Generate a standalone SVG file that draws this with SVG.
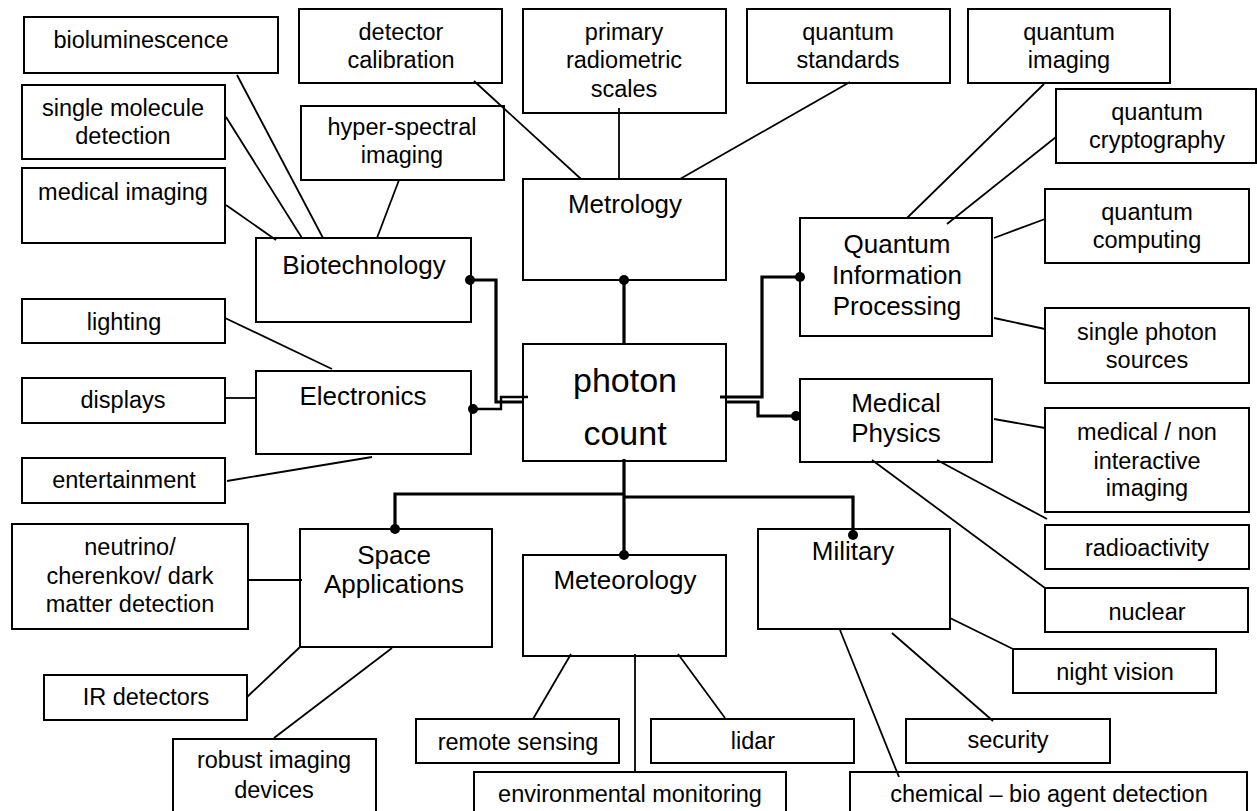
<svg xmlns="http://www.w3.org/2000/svg" width="1257" height="811" viewBox="0 0 1257 811">
<style>
rect{fill:#fff;stroke:#000;stroke-width:2}
text{font-family:"Liberation Sans",Arial,sans-serif;fill:#000;text-anchor:middle}
.s{font-size:23.5px}
.m{font-size:26px}
.c{font-size:34px}
.t{stroke:#000;stroke-width:1.8;fill:none}
.k{stroke:#000;stroke-width:3.2;fill:none}
.k2{stroke:#000;stroke-width:2.4;fill:none}
circle{fill:#000}
</style>
<rect x="0" y="0" width="1257" height="811" style="stroke:none"/>
<g id="photon-count"><rect x="523" y="344" width="203" height="117"/><text class="c" x="625" y="392">photon</text><text class="c" x="625" y="445">count</text></g>
<g id="metrology"><rect x="523" y="179" width="203" height="101"/><text class="m" x="625" y="213">Metrology</text></g>
<g id="biotechnology"><rect x="256" y="238" width="215" height="84"/><text class="m" x="364" y="274">Biotechnology</text></g>
<g id="electronics"><rect x="256" y="371" width="215" height="83"/><text class="m" x="363" y="405">Electronics</text></g>
<g id="qip"><rect x="800" y="218" width="192" height="118"/><text class="m" x="897" y="253">Quantum</text><text class="m" x="897" y="284">Information</text><text class="m" x="897" y="315">Processing</text></g>
<g id="medical-physics"><rect x="800" y="379" width="192" height="83"/><text class="m" x="896" y="412">Medical</text><text class="m" x="896" y="442">Physics</text></g>
<g id="space"><rect x="300" y="529" width="192" height="118"/><text class="m" x="394" y="564">Space</text><text class="m" x="394" y="593">Applications</text></g>
<g id="meteorology"><rect x="523" y="555" width="203" height="101"/><text class="m" x="625" y="589">Meteorology</text></g>
<g id="military"><rect x="758" y="529" width="192" height="100"/><text class="m" x="853" y="560">Military</text></g>
<g id="bioluminescence"><rect x="24" y="17" width="254" height="56"/><text class="s" x="141" y="48">bioluminescence</text></g>
<g id="single-molecule"><rect x="22" y="85" width="203" height="74"/><text class="s" x="123" y="116">single molecule</text><text class="s" x="123" y="144">detection</text></g>
<g id="medical-imaging"><rect x="22" y="168" width="203" height="75"/><text class="s" x="123" y="200">medical imaging</text></g>
<g id="detector-calibration"><rect x="299" y="9" width="203" height="74"/><text class="s" x="401" y="40">detector</text><text class="s" x="401" y="68">calibration</text></g>
<g id="hyper-spectral"><rect x="301" y="106" width="203" height="74"/><text class="s" x="402" y="135">hyper-spectral</text><text class="s" x="402" y="163">imaging</text></g>
<g id="primary-radiometric"><rect x="523" y="9" width="203" height="104"/><text class="s" x="624" y="40">primary</text><text class="s" x="624" y="68">radiometric</text><text class="s" x="624" y="97">scales</text></g>
<g id="quantum-standards"><rect x="747" y="9" width="203" height="74"/><text class="s" x="848" y="40">quantum</text><text class="s" x="848" y="68">standards</text></g>
<g id="quantum-imaging"><rect x="968" y="9" width="202" height="74"/><text class="s" x="1069" y="40">quantum</text><text class="s" x="1069" y="68">imaging</text></g>
<g id="quantum-cryptography"><rect x="1056" y="89" width="200" height="74"/><text class="s" x="1157" y="120">quantum</text><text class="s" x="1157" y="148">cryptography</text></g>
<g id="quantum-computing"><rect x="1045" y="189" width="204" height="74"/><text class="s" x="1147" y="220">quantum</text><text class="s" x="1147" y="248">computing</text></g>
<g id="single-photon"><rect x="1045" y="308" width="204" height="75"/><text class="s" x="1147" y="340">single photon</text><text class="s" x="1147" y="368">sources</text></g>
<g id="medical-non"><rect x="1045" y="408" width="204" height="104"/><text class="s" x="1147" y="440">medical / non</text><text class="s" x="1147" y="469">interactive</text><text class="s" x="1147" y="496">imaging</text></g>
<g id="radioactivity"><rect x="1045" y="525" width="204" height="44"/><text class="s" x="1147" y="556">radioactivity</text></g>
<g id="nuclear"><rect x="1045" y="588" width="203" height="44"/><text class="s" x="1147" y="620">nuclear</text></g>
<g id="night-vision"><rect x="1013" y="649" width="203" height="44"/><text class="s" x="1115" y="680">night vision</text></g>
<g id="security"><rect x="906" y="719" width="204" height="44"/><text class="s" x="1008" y="748">security</text></g>
<g id="chemical"><rect x="850" y="772" width="397" height="50"/><text class="s" x="1049" y="802">chemical – bio agent detection</text></g>
<g id="neutrino"><rect x="12" y="524" width="236" height="105"/><text class="s" x="130" y="555">neutrino/</text><text class="s" x="130" y="584">cherenkov/ dark</text><text class="s" x="130" y="612">matter detection</text></g>
<g id="ir-detectors"><rect x="44" y="675" width="203" height="45"/><text class="s" x="146" y="705">IR detectors</text></g>
<g id="robust-imaging"><rect x="173" y="739" width="203" height="80"/><text class="s" x="274" y="768">robust imaging</text><text class="s" x="274" y="798">devices</text></g>
<g id="remote-sensing"><rect x="416" y="719" width="203" height="44"/><text class="s" x="518" y="750">remote sensing</text></g>
<g id="lidar"><rect x="651" y="719" width="203" height="44"/><text class="s" x="753" y="749">lidar</text></g>
<g id="environmental-monitoring"><rect x="474" y="772" width="312" height="50"/><text class="s" x="630" y="802">environmental monitoring</text></g>
<g id="lighting"><rect x="22" y="299" width="203" height="44"/><text class="s" x="124" y="330">lighting</text></g>
<g id="displays"><rect x="22" y="378" width="203" height="45"/><text class="s" x="123" y="408">displays</text></g>
<g id="entertainment"><rect x="22" y="458" width="203" height="45"/><text class="s" x="124" y="488">entertainment</text></g>
<g id="connectors">
<line class="t" x1="237" y1="75" x2="323" y2="238"/>
<line class="t" x1="226" y1="117" x2="302" y2="238"/>
<line class="t" x1="226" y1="205" x2="276" y2="240"/>
<line class="t" x1="399" y1="180" x2="377" y2="238"/>
<line class="t" x1="474" y1="81" x2="581" y2="179"/>
<line class="t" x1="619" y1="108" x2="619" y2="179"/>
<line class="t" x1="850" y1="82" x2="680" y2="179"/>
<line class="t" x1="1044" y1="84" x2="907" y2="218"/>
<line class="t" x1="1056" y1="137" x2="947" y2="224"/>
<line class="t" x1="994" y1="238" x2="1045" y2="219"/>
<line class="t" x1="994" y1="318" x2="1045" y2="329"/>
<line class="t" x1="994" y1="419" x2="1045" y2="428"/>
<line class="t" x1="937" y1="460" x2="1047" y2="519"/>
<line class="t" x1="872" y1="460" x2="1045" y2="588"/>
<line class="t" x1="950" y1="618" x2="1013" y2="649"/>
<line class="t" x1="892" y1="633" x2="993" y2="721"/>
<line class="t" x1="840" y1="630" x2="899" y2="777"/>
<line class="t" x1="571" y1="654" x2="533" y2="719"/>
<line class="t" x1="635" y1="654" x2="635" y2="772"/>
<line class="t" x1="678" y1="654" x2="725" y2="718"/>
<line class="t" x1="248" y1="580" x2="302" y2="580"/>
<line class="t" x1="300" y1="647" x2="247" y2="697"/>
<line class="t" x1="392" y1="648" x2="274" y2="738"/>
<line class="t" x1="225" y1="318" x2="332" y2="369"/>
<line class="t" x1="225" y1="398" x2="256" y2="398"/>
<line class="t" x1="227" y1="481" x2="372" y2="457"/>
<polyline class="k" points="624,344 624,280"/>
<polyline class="k" points="470,280 496,280 496,402 522,402"/>
<polyline class="k2" points="472,409 501,409 501,397 528,397"/>
<polyline class="k" points="800,277 762,277 762,397 720,397"/>
<polyline class="k" points="725,402 758,402 758,416 796,416"/>
<polyline class="k" points="624,459 624,555"/>
<polyline class="k" points="624,494 395,494 395,529"/>
<polyline class="k" points="624,497 853,497 853,535"/>
<circle cx="624" cy="280" r="5"/>
<circle cx="470" cy="280" r="5"/>
<circle cx="473" cy="409" r="5"/>
<circle cx="800" cy="277" r="5"/>
<circle cx="796" cy="416" r="5"/>
<circle cx="624" cy="555" r="5"/>
<circle cx="395" cy="529" r="5"/>
<circle cx="853" cy="535" r="5"/>
</g>
</svg>
